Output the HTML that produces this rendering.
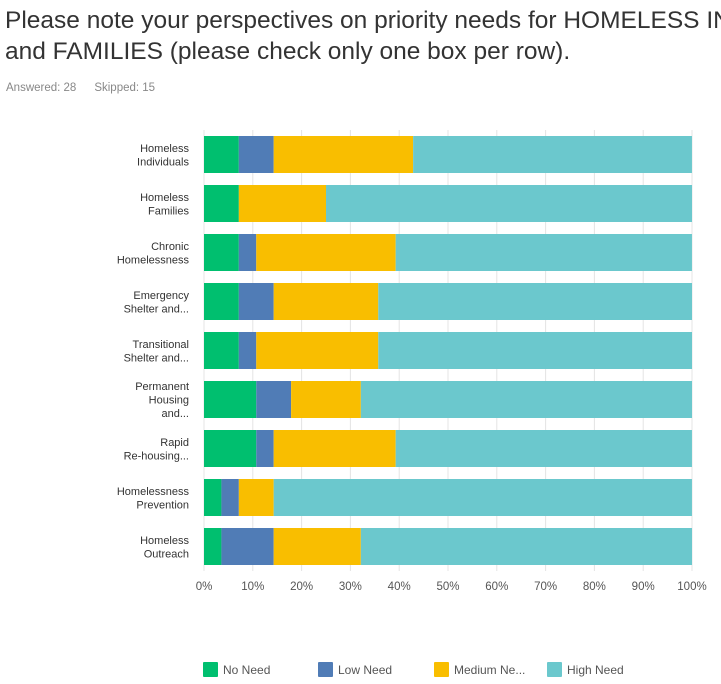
<!DOCTYPE html>
<html><head><meta charset="utf-8">
<style>
body{margin:0;width:721px;height:684px;background:#fff;font-family:"Liberation Sans",sans-serif;overflow:hidden;position:relative}
.title{position:absolute;left:5px;top:5px;width:716px;overflow:hidden;font-size:24.5px;line-height:31px;color:#333;white-space:nowrap}
.meta{position:absolute;left:6px;top:82px;font-size:11.5px;color:#888}
.meta span{margin-right:18px}
</style></head><body>
<div class="title">Please note your perspectives on priority needs for HOMELESS INDIVIDUALS<br>and FAMILIES (please check only one box per row).</div>
<div class="meta"><span>Answered: 28</span><span>Skipped: 15</span></div>
<svg id="chart" width="721" height="684" style="position:absolute;left:0;top:0"></svg>
<script>
const categories=[["Homeless","Individuals"],["Homeless","Families"],["Chronic","Homelessness"],["Emergency","Shelter and..."],["Transitional","Shelter and..."],["Permanent","Housing","and..."],["Rapid","Re-housing..."],["Homelessness","Prevention"],["Homeless","Outreach"]];
const seriesNames=["No Need","Low Need","Medium Need","High Need"];
const legendLabels=["No Need","Low Need","Medium Ne...","High Need"];
const noNeed=[7.14,7.14,7.14,7.14,7.14,10.71,10.71,3.57,3.57];
const lowNeed=[7.14,0,3.57,7.14,3.57,7.14,3.57,3.57,10.71];
const mediumNeed=[28.57,17.86,28.57,21.43,25.0,14.29,25.0,7.14,17.86];
const highNeed=[57.14,75.0,60.71,64.29,64.29,67.86,60.71,85.71,67.86];
const ticks=[0,10,20,30,40,50,60,70,80,90,100];
const colors=["#00bf6f","#507cb6","#f9be00","#6bc8cd"];
const svg=document.getElementById('chart');
const NS="http://www.w3.org/2000/svg";
const x0=204,x1=692,yTop=130,rowH=49,barH=37;
const xs=v=>x0+(x1-x0)*v/100;
function mk(t,a){const e=document.createElementNS(NS,t);for(const k in a)e.setAttribute(k,a[k]);svg.appendChild(e);return e;}
ticks.forEach(t=>{
 const l=mk('line',{x1:xs(t),x2:xs(t),y1:yTop,y2:yTop+rowH*categories.length,stroke:'#e4e4e4','stroke-width':1});
 
 
 const tx=mk('text',{x:xs(t),y:590,'text-anchor':'middle','font-size':11.5,fill:'#555'});
 tx.textContent=t+'%';
 
 
});
const series=[noNeed,lowNeed,mediumNeed,highNeed];
categories.forEach((c,i)=>{
 const yc=yTop+rowH*i+rowH/2;
 let acc=0;
 series.forEach((s,j)=>{
  const v=s[i];
  if(v>0){
   const r=mk('rect',{x:xs(acc),y:yc-barH/2,width:xs(acc+v)-xs(acc),height:barH,fill:colors[j]});
   
   
  }
  acc+=v;
 });
 const n=c.length,lh=13.5;
 c.forEach((ln,k)=>{
  const t=mk('text',{x:189,y:yc-(n-1)*lh/2+k*lh+4,'text-anchor':'end','font-size':11,fill:'#333'});
  t.textContent=ln;
  
  
 });
});
const lx=[203,318,434,547];
legendLabels.forEach((l,j)=>{
 const r=mk('rect',{x:lx[j],y:662,width:15,height:15,fill:colors[j],rx:1});
 
 
 const t=mk('text',{x:lx[j]+20,y:674,'font-size':12,fill:'#555'});
 t.textContent=l;
 
 
});
</script>
</body></html>
